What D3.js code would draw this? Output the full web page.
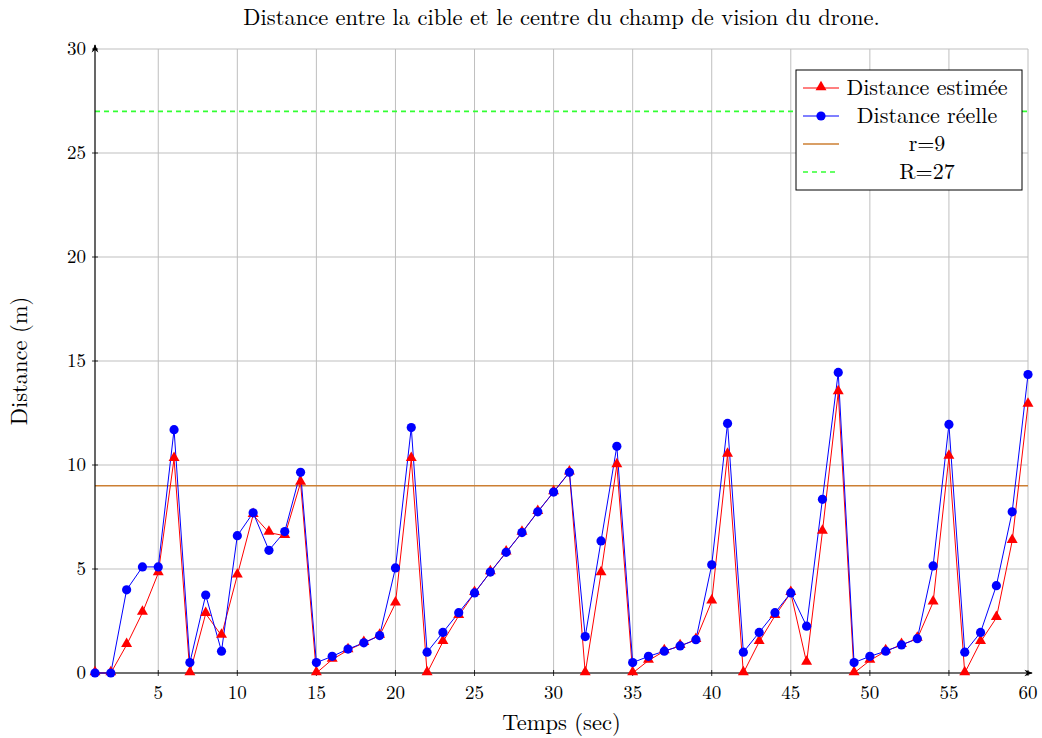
<!DOCTYPE html>
<html>
<head>
<meta charset="utf-8">
<script src="https://cdn.jsdelivr.net/npm/d3@7"></script>
<style>
body { margin: 0; background: #fff; }
text { font-family: "Latin Modern Roman", "Liberation Serif", serif; }
</style>
</head>
<body>
<div id="chart"></div>
<script>
// temps (sec)
var temps = d3.range(1, 61);

// distance estimée (m)
var estimee = [0, 0, 1.35, 2.9, 4.8, 10.3, 0, 2.85, 1.8, 4.7,
  7.6, 6.75, 6.6, 9.15, 0, 0.65, 1.1, 1.45, 1.8, 3.35,
  10.3, 0, 1.5, 2.75, 3.85, 4.85, 5.8, 6.75, 7.75, 8.7,
  9.65, 0, 4.8, 10.0, 0, 0.6, 1.05, 1.3, 1.6, 3.45,
  10.5, 0, 1.5, 2.75, 3.85, 0.5, 6.8, 13.5, 0, 0.6,
  1.05, 1.35, 1.65, 3.4, 10.4, 0, 1.5, 2.65, 6.35, 12.9];

// distance réelle (m)
var reelle = [0, 0, 4.0, 5.1, 5.1, 11.7, 0.5, 3.75, 1.05, 6.6,
  7.7, 5.9, 6.8, 9.65, 0.5, 0.8, 1.15, 1.45, 1.8, 5.05,
  11.8, 1.0, 1.95, 2.9, 3.85, 4.85, 5.8, 6.75, 7.75, 8.7,
  9.65, 1.75, 6.35, 10.9, 0.5, 0.8, 1.05, 1.3, 1.6, 5.2,
  12.0, 1.0, 1.95, 2.9, 3.85, 2.25, 8.35, 14.45, 0.5, 0.8,
  1.05, 1.35, 1.65, 5.15, 11.95, 1.0, 1.95, 4.2, 7.75, 14.35];

var xTicks = [5, 10, 15, 20, 25, 30, 35, 40, 45, 50, 55, 60];
var yTicks = [0, 5, 10, 15, 20, 25, 30];
var petitR = 9, grandR = 27;

var margin = {left: 95, right: 14, top: 49, bottom: 65};
var W = 1042, H = 738;
var width = W - margin.left - margin.right;
var height = H - margin.top - margin.bottom;

var svg = d3.select("#chart").append("svg")
  .attr("width", W).attr("height", H);

var g = svg.append("g")
  .attr("transform", "translate(" + margin.left + "," + margin.top + ")");

var xScale = d3.scaleLinear().domain([1, 60]).range([0, width]);
var yScale = d3.scaleLinear().domain([0, 30]).range([height, 0]);

// grid
g.selectAll(".gx").data(xTicks).enter().append("line")
  .attr("x1", d => xScale(d)).attr("x2", d => xScale(d))
  .attr("y1", 0).attr("y2", height)
  .attr("stroke", "#bfbfbf").attr("stroke-width", 1);
g.selectAll(".gy").data(yTicks).enter().append("line")
  .attr("x1", 0).attr("x2", width)
  .attr("y1", d => yScale(d)).attr("y2", d => yScale(d))
  .attr("stroke", "#bfbfbf").attr("stroke-width", 1);

// reference lines
g.append("line")
  .attr("x1", 0).attr("x2", width)
  .attr("y1", yScale(petitR)).attr("y2", yScale(petitR))
  .attr("stroke", "#cc7f33").attr("stroke-width", 1.6);
g.append("line")
  .attr("x1", 0).attr("x2", width)
  .attr("y1", yScale(grandR)).attr("y2", yScale(grandR))
  .attr("stroke", "#33ff33").attr("stroke-width", 1.6)
  .attr("stroke-dasharray", "5,4");

// axes with arrows
var defs = svg.append("defs");
defs.append("marker").attr("id", "arrow")
  .attr("viewBox", "0 0 10 10").attr("refX", 9).attr("refY", 5)
  .attr("markerWidth", 7).attr("markerHeight", 7).attr("orient", "auto")
  .append("path").attr("d", "M0,1 L10,5 L0,9 L3,5 Z").attr("fill", "#000");

g.append("line").attr("x1", 0).attr("x2", width + 4)
  .attr("y1", height).attr("y2", height)
  .attr("stroke", "#000").attr("stroke-width", 1.2).attr("marker-end", "url(#arrow)");
g.append("line").attr("x1", 0).attr("x2", 0)
  .attr("y1", height).attr("y2", -4)
  .attr("stroke", "#000").attr("stroke-width", 1.2).attr("marker-end", "url(#arrow)");

// ticks
g.selectAll(".tx").data(xTicks).enter().append("line")
  .attr("x1", d => xScale(d)).attr("x2", d => xScale(d))
  .attr("y1", height - 3).attr("y2", height + 3)
  .attr("stroke", "#000").attr("stroke-width", 0.8);
g.selectAll(".ty").data(yTicks).enter().append("line")
  .attr("x1", -3).attr("x2", 3)
  .attr("y1", d => yScale(d)).attr("y2", d => yScale(d))
  .attr("stroke", "#000").attr("stroke-width", 0.8);

g.selectAll(".lx").data(xTicks).enter().append("text")
  .attr("x", d => xScale(d)).attr("y", height + 26)
  .attr("text-anchor", "middle").attr("font-size", "19px")
  .text(d => d);
g.selectAll(".ly").data(yTicks).enter().append("text")
  .attr("x", -9).attr("y", d => yScale(d) + 6)
  .attr("text-anchor", "end").attr("font-size", "19px")
  .text(d => d);

// labels
svg.append("text").attr("x", margin.left + width / 2).attr("y", 25)
  .attr("text-anchor", "middle").attr("font-size", "22.5px")
  .text("Distance entre la cible et le centre du champ de vision du drone.");
svg.append("text").attr("x", margin.left + width / 2).attr("y", 730)
  .attr("text-anchor", "middle").attr("font-size", "22.5px")
  .text("Temps (sec)");
svg.append("text")
  .attr("transform", "translate(27," + (margin.top + yScale(15)) + ") rotate(-90)")
  .attr("text-anchor", "middle").attr("font-size", "22.5px")
  .text("Distance (m)");

// series
var line = d3.line().x((d, i) => xScale(temps[i])).y(d => yScale(d));

g.append("path").datum(estimee).attr("d", line)
  .attr("fill", "none").attr("stroke", "#ff0000").attr("stroke-width", 1);
g.append("path").datum(reelle).attr("d", line)
  .attr("fill", "none").attr("stroke", "#0000ff").attr("stroke-width", 1);

var tri = d3.symbol().type(d3.symbolTriangle).size(52);
g.selectAll(".tri").data(estimee).enter().append("path")
  .attr("d", tri)
  .attr("transform", (d, i) => "translate(" + xScale(temps[i]) + "," + (yScale(d) - 1) + ")")
  .attr("fill", "#ff0000");

g.selectAll(".dot").data(reelle).enter().append("circle")
  .attr("cx", (d, i) => xScale(temps[i])).attr("cy", d => yScale(d))
  .attr("r", 4.6).attr("fill", "#0000ff");

// legend
var lg = svg.append("g").attr("transform", "translate(796,70)");
lg.append("rect").attr("width", 226).attr("height", 120)
  .attr("fill", "#fff").attr("stroke", "#000").attr("stroke-width", 1);

var legItems = [
  {label: "Distance estimée", color: "#ff0000", mark: "tri"},
  {label: "Distance réelle", color: "#0000ff", mark: "dot"},
  {label: "r=9", color: "#cc7f33", mark: "none"},
  {label: "R=27", color: "#33ff33", mark: "dash"}
];
legItems.forEach(function(it, i) {
  var y = 18 + i * 28;
  lg.append("line").attr("x1", 7).attr("x2", 43).attr("y1", y).attr("y2", y)
    .attr("stroke", it.color).attr("stroke-width", it.mark == "none" || it.mark == "dash" ? 1.6 : 1)
    .attr("stroke-dasharray", it.mark == "dash" ? "5,4" : null);
  if (it.mark == "tri") {
    lg.append("path").attr("d", tri).attr("transform", "translate(25," + (y - 1) + ")").attr("fill", it.color);
  } else if (it.mark == "dot") {
    lg.append("circle").attr("cx", 25).attr("cy", y).attr("r", 4.6).attr("fill", it.color);
  }
  lg.append("text").attr("x", 131).attr("y", y + 7)
    .attr("text-anchor", "middle").attr("font-size", "22px")
    .text(it.label);
});
</script>
</body>
</html>
